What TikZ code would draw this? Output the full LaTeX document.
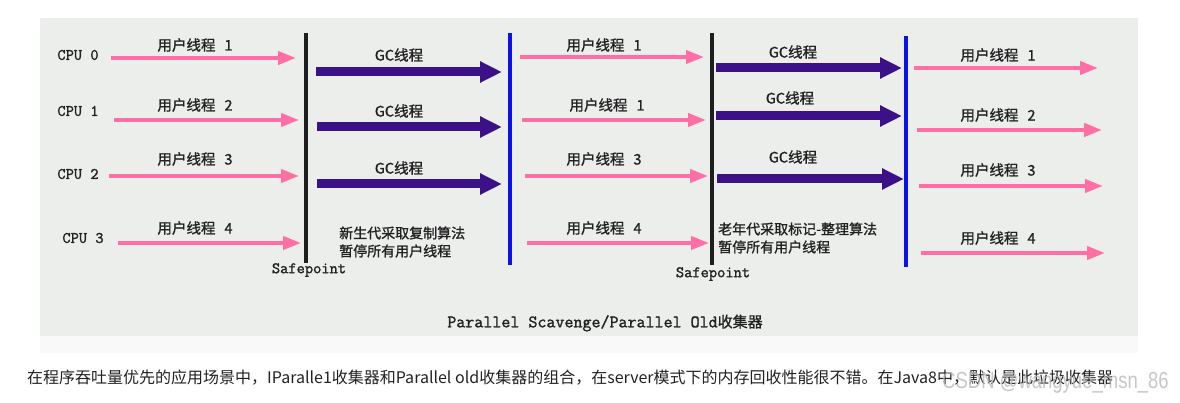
\documentclass[tikz,border=0pt]{standalone}
\usepackage{fontspec}
\setmainfont{Noto Sans CJK SC}
\newfontfamily\cjk{Noto Sans CJK SC}
\newfontfamily\cjkb{Noto Sans CJK SC}[FakeBold=1.2]
\newfontfamily\mono{Latin Modern Mono}[FakeBold=1.5]
\newfontfamily\wmfont{Liberation Sans}
\usetikzlibrary{arrows.meta}
\definecolor{panel}{HTML}{ECEEEC}
\definecolor{upink}{HTML}{FF6FA5}
\definecolor{gcpurple}{HTML}{3C1187}
\definecolor{sblue}{HTML}{0A12E8}
\definecolor{sblack}{HTML}{1E1E1E}
\definecolor{txt}{HTML}{222222}
\newcommand\uthread[1]{用户线程\hspace{9pt}#1}
\tikzset{
  user/.style={draw=upink, line width=4pt, -{Triangle[length=18pt,width=13pt]}},
  gc/.style={draw=gcpurple, line width=9pt, -{Triangle[length=22pt,width=20pt]}},
  ulab/.style={font=\cjkb\fontsize{14.5}{16}\selectfont, text=txt, inner sep=0pt},
  cpulab/.style={font=\mono\fontsize{16}{18}\selectfont, text=txt, inner sep=0pt},
  safe/.style={line width=4pt, draw=sblack},
  bsafe/.style={line width=4pt, draw=sblue},
  note/.style={font=\cjkb\fontsize{14}{18}\selectfont, text=txt, inner sep=0pt, align=left, anchor=west},
}
\begin{document}
\begin{tikzpicture}[x=1pt,y=-1pt]
\useasboundingbox (0,0) rectangle (1180,403);
\fill[white] (0,0) rectangle (1180,403);
\fill[panel] (40,18) rectangle (1138,336);
\fill[panel!35] (40,336) rectangle (1138,353);

% CPU labels
\node[cpulab] (cpu0) at (78,55) {CPU 0};
\node[cpulab] (cpu1) at (78,111) {CPU 1};
\node[cpulab] (cpu2) at (78,174) {CPU 2};
\node[cpulab] (cpu3) at (83,238) {CPU 3};

% vertical lines
\coordinate (s1t) at (306,33); \coordinate (s1b) at (306,263);
\coordinate (b1t) at (510,33); \coordinate (b1b) at (510,265);
\coordinate (s2t) at (712,33); \coordinate (s2b) at (712,265);
\coordinate (b2t) at (906,36); \coordinate (b2b) at (906,267);
\draw[safe] (s1t) -- (s1b);
\draw[bsafe] (b1t) -- (b1b);
\draw[safe] (s2t) -- (s2b);
\draw[bsafe] (b2t) -- (b2b);
\node[cpulab] (sp1) at (309,270) {Safepoint};
\node[cpulab] (sp2) at (713,274) {Safepoint};

% segment 1 user threads
\coordinate (a1s) at (111,58); \coordinate (a1e) at (296,58);
\coordinate (a2s) at (114,120); \coordinate (a2e) at (299,120);
\coordinate (a3s) at (109,176); \coordinate (a3e) at (299,176);
\coordinate (a4s) at (118,243); \coordinate (a4e) at (301,243);
\draw[user] (a1s) -- (a1e);
\draw[user] (a2s) -- (a2e);
\draw[user] (a3s) -- (a3e);
\draw[user] (a4s) -- (a4e);
\node[ulab] (l11) at (195,45) {\uthread{1}};
\node[ulab] (l12) at (195,105) {\uthread{2}};
\node[ulab] (l13) at (195,159) {\uthread{3}};
\node[ulab] (l14) at (195,228) {\uthread{4}};

% segment 1 GC
\coordinate (g1s) at (316,72); \coordinate (g1e) at (502,72);
\coordinate (g2s) at (317,127); \coordinate (g2e) at (502,127);
\coordinate (g3s) at (317,184); \coordinate (g3e) at (502,184);
\draw[gc] (g1s) -- (g1e);
\draw[gc] (g2s) -- (g2e);
\draw[gc] (g3s) -- (g3e);
\node[ulab] (gl1) at (399,55) {GC线程};
\node[ulab] (gl2) at (399,111) {GC线程};
\node[ulab] (gl3) at (399,168) {GC线程};
\node[note] (n1) at (339,242) {新生代采取复制算法\\暂停所有用户线程};

% segment 2 user threads
\coordinate (c1s) at (520,57); \coordinate (c1e) at (704,57);
\coordinate (c2s) at (522,120); \coordinate (c2e) at (706,120);
\coordinate (c3s) at (525,176); \coordinate (c3e) at (708,176);
\coordinate (c4s) at (527,243); \coordinate (c4e) at (709,243);
\draw[user] (c1s) -- (c1e);
\draw[user] (c2s) -- (c2e);
\draw[user] (c3s) -- (c3e);
\draw[user] (c4s) -- (c4e);
\node[ulab] (l21) at (604,45) {\uthread{1}};
\node[ulab] (l22) at (607,105) {\uthread{1}};
\node[ulab] (l23) at (604,159) {\uthread{3}};
\node[ulab] (l24) at (604,228) {\uthread{4}};

% segment 2 GC
\coordinate (h1s) at (716,68); \coordinate (h1e) at (902,68);
\coordinate (h2s) at (716,116); \coordinate (h2e) at (902,116);
\coordinate (h3s) at (717,179); \coordinate (h3e) at (904,179);
\draw[gc] (h1s) -- (h1e);
\draw[gc] (h2s) -- (h2e);
\draw[gc] (h3s) -- (h3e);
\node[ulab] (hl1) at (793,52) {GC线程};
\node[ulab] (hl2) at (790,98) {GC线程};
\node[ulab] (hl3) at (793,157) {GC线程};
\node[note] (n2) at (718,238) {老年代采取标记-整理算法\\暂停所有用户线程};

% segment 3 user threads
\coordinate (d1s) at (914,68); \coordinate (d1e) at (1098,68);
\coordinate (d2s) at (917,130); \coordinate (d2e) at (1102,130);
\coordinate (d3s) at (919,186); \coordinate (d3e) at (1103,186);
\coordinate (d4s) at (921,253); \coordinate (d4e) at (1105,253);
\draw[user] (d1s) -- (d1e);
\draw[user] (d2s) -- (d2e);
\draw[user] (d3s) -- (d3e);
\draw[user] (d4s) -- (d4e);
\node[ulab] (l31) at (998,55) {\uthread{1}};
\node[ulab] (l32) at (998,115) {\uthread{2}};
\node[ulab] (l33) at (998,170) {\uthread{3}};
\node[ulab] (l34) at (998,238) {\uthread{4}};

% caption
\node[inner sep=0pt, text=txt] (cap) at (605,323) {\mono\fontsize{17.5}{18}\selectfont Parallel Scavenge/Parallel Old{\cjkb\fontsize{15}{18}\selectfont 收集器}};

% body text
\node[inner sep=0pt, anchor=west, text=txt, font=\cjk\fontsize{16}{18}\selectfont] (body) at (27,378) {在程序吞吐量优先的应用场景中，IParalle1收集器和Parallel old收集器的组合，在server模式下的内存回收性能很不错。在Java8中，默认是此垃圾收集器};

% watermark
\node[inner sep=0pt, anchor=west, text=gray!55, opacity=0.8] (wm) at (942,383) {\scalebox{1}[1.25]{\wmfont\fontsize{18.5}{22}\selectfont CSDN @wangyue\_msn\_86}};
\end{tikzpicture}
\end{document}
